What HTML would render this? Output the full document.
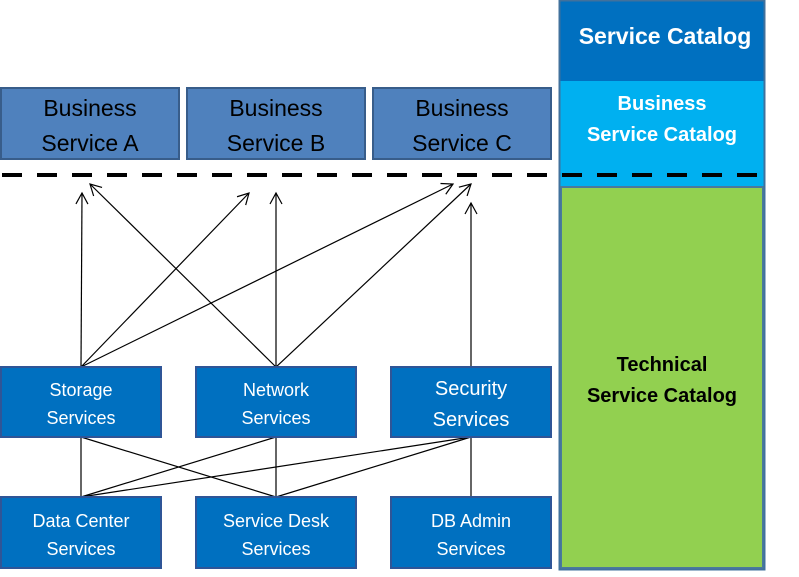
<!DOCTYPE html>
<html><head><style>
body{margin:0;width:799px;height:572px;background:#fff;overflow:hidden;font-family:"Liberation Sans",sans-serif}
</style></head><body>
<svg width="799" height="572" xmlns="http://www.w3.org/2000/svg" font-family="Liberation Sans, sans-serif">
<defs><marker id="a" markerWidth="14" markerHeight="14" refX="12" refY="7" orient="auto" markerUnits="userSpaceOnUse"><path d="M1,1 L12,7 L1,13" fill="none" stroke="#000" stroke-width="1.2"/></marker></defs>
<!-- right column -->
<rect x="560" y="1" width="204" height="80" fill="#0070C0"/>
<rect x="560" y="81" width="204" height="105" fill="#00B0F0"/>
<rect x="561" y="187" width="202" height="381" fill="#92D050" stroke="#4a7a9c" stroke-width="2"/>
<rect x="559.5" y="0.5" width="205" height="569" fill="none" stroke="#41719C" stroke-width="2"/>
<text x="665" y="44" fill="#fff" font-size="23" font-weight="bold" text-anchor="middle">Service Catalog</text>
<text x="662" y="110" fill="#fff" font-size="20" font-weight="bold" text-anchor="middle">Business</text>
<text x="662" y="141" fill="#fff" font-size="20" font-weight="bold" text-anchor="middle">Service Catalog</text>
<text x="662" y="371" fill="#000" font-size="20" font-weight="bold" text-anchor="middle">Technical</text>
<text x="662" y="402" fill="#000" font-size="20" font-weight="bold" text-anchor="middle">Service Catalog</text>
<!-- dashed -->
<line x1="2" y1="175" x2="760" y2="175" stroke="#000" stroke-width="4" stroke-dasharray="20 15"/>
<!-- business boxes -->
<g fill="#4F81BD" stroke="#385D8A" stroke-width="2">
<rect x="1" y="88" width="178" height="71"/><rect x="187" y="88" width="178" height="71"/><rect x="373" y="88" width="178" height="71"/></g>
<g font-size="23" fill="#000" text-anchor="middle">
<text x="90" y="116">Business</text><text x="90" y="151">Service A</text>
<text x="276" y="116">Business</text><text x="276" y="151">Service B</text>
<text x="462" y="116">Business</text><text x="462" y="151">Service C</text></g>
<!-- arrows -->
<g stroke="#000" stroke-width="1.2" marker-end="url(#a)">
<line x1="81" y1="367" x2="82" y2="193"/>
<line x1="81" y1="367" x2="249" y2="193"/>
<line x1="81" y1="367" x2="453" y2="184"/>
<line x1="276" y1="367" x2="90" y2="184"/>
<line x1="276" y1="367" x2="276" y2="193"/>
<line x1="276" y1="367" x2="471" y2="184"/>
<line x1="471" y1="367" x2="471" y2="203"/>
</g>
<g stroke="#000" stroke-width="1.2">
<line x1="81" y1="437" x2="81" y2="497"/><line x1="81" y1="437" x2="276" y2="497"/>
<line x1="276" y1="437" x2="81" y2="497"/><line x1="276" y1="437" x2="276" y2="497"/>
<line x1="471" y1="437" x2="81" y2="497"/><line x1="471" y1="437" x2="276" y2="497"/><line x1="471" y1="437" x2="471" y2="497"/>
</g>
<g fill="#0070C0" stroke="#2F5597" stroke-width="2">
<rect x="1" y="367" width="160" height="70"/><rect x="196" y="367" width="160" height="70"/><rect x="391" y="367" width="160" height="70"/>
<rect x="1" y="497" width="160" height="71"/><rect x="196" y="497" width="160" height="71"/><rect x="391" y="497" width="160" height="71"/></g>
<g font-size="18" fill="#fff" text-anchor="middle">
<text x="81" y="396">Storage</text><text x="81" y="424">Services</text>
<text x="276" y="396">Network</text><text x="276" y="424">Services</text>
<text x="471" y="395" font-size="20">Security</text><text x="471" y="426" font-size="20">Services</text>
<text x="81" y="527">Data Center</text><text x="81" y="555">Services</text>
<text x="276" y="527">Service Desk</text><text x="276" y="555">Services</text>
<text x="471" y="527">DB Admin</text><text x="471" y="555">Services</text>
</g>
</svg>
</body></html>
